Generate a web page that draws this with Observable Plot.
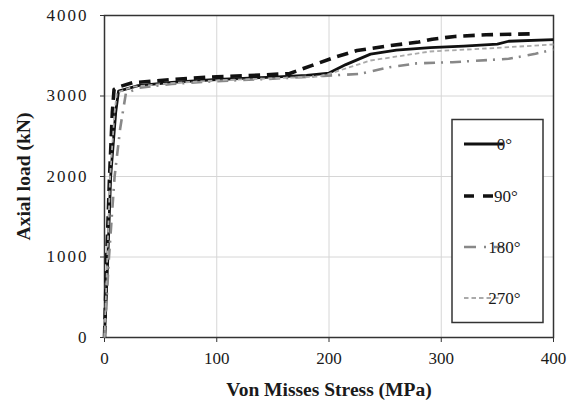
<!DOCTYPE html>
<html><head><meta charset="utf-8">
<script src="https://cdn.jsdelivr.net/npm/d3@7"></script>
<script src="https://cdn.jsdelivr.net/npm/@observablehq/plot@0.6"></script>
<style>
body{margin:0;background:#fff}
#chart{width:567px;height:403px}
</style>
</head><body><div id="chart"></div>
<script>
// Data
const xTicks = [0, 100, 200, 300, 400];
const yTicks = [0, 1000, 2000, 3000, 4000];
const seriesNames = ["0°", "90°", "180°", "270°"];

const stress0 = [0, 3, 5.5, 10, 12.5, 30, 60, 100, 150, 180, 200, 215, 237, 260, 290, 320, 350, 360, 400];
const load0   = [0, 1000, 2000, 2800, 3060, 3130, 3170, 3205, 3235, 3255, 3285, 3390, 3520, 3570, 3600, 3620, 3645, 3680, 3700];

const stress90 = [0, 2, 4.5, 7, 8.5, 12, 25, 60, 100, 140, 165, 185, 205, 225, 255, 280, 292, 312, 340, 380];
const load90   = [0, 1000, 2000, 2800, 3080, 3110, 3165, 3205, 3240, 3260, 3280, 3380, 3480, 3565, 3627, 3670, 3705, 3740, 3760, 3772];

const stress180 = [0, 4, 9, 14, 19, 30, 60, 100, 150, 195, 228, 254, 278, 310, 360, 384, 400];
const load180   = [0, 1000, 2000, 2600, 3030, 3100, 3150, 3185, 3215, 3250, 3275, 3358, 3405, 3420, 3462, 3524, 3580];

const stress270 = [0, 2.5, 5, 9, 11, 25, 60, 100, 150, 190, 200, 237, 290, 340, 400];
const load270   = [0, 1000, 2000, 2800, 3040, 3115, 3160, 3195, 3220, 3240, 3275, 3441, 3553, 3590, 3640];

const xs = [stress0, stress90, stress180, stress270];
const ys = [load0, load90, load180, load270];
const styles = [
  {stroke: "#111", strokeWidth: 2.8, dash: null},
  {stroke: "#111", strokeWidth: 3.6, dash: "11.5,6.8"},
  {stroke: "#888", strokeWidth: 2.6, dash: "11,6,2,7"},
  {stroke: "#aaa", strokeWidth: 1.8, dash: "4.5,3"}
];

const tables = seriesNames.map((name, k) => xs[k].map((x, i) => ({series: name, x, y: ys[k][i]})));

const lineMarks = tables.map((t, k) => Plot.line(t, {
  x: "x", y: "y", stroke: styles[k].stroke, strokeWidth: styles[k].strokeWidth,
  strokeDasharray: styles[k].dash, strokeLinejoin: "round", strokeLinecap: "butt"
}));

const fontFam = "Liberation Serif";
const chart = Plot.plot({
  width: 567, height: 403,
  marginLeft: 104, marginRight: 14, marginTop: 15, marginBottom: 66,
  style: {fontFamily: fontFam, fontSize: "17px", color: "#1a1a1a", background: "#fff"},
  x: {domain: [0, 400]},
  y: {domain: [0, 4000]},
  marks: [
    Plot.gridX(xTicks, {stroke: "#d6d6d6", strokeOpacity: 1, strokeWidth: 1}),
    Plot.gridY(yTicks, {stroke: "#d6d6d6", strokeOpacity: 1, strokeWidth: 1}),
    Plot.axisX({ticks: xTicks, tickFormat: d => String(d), tickSize: 5, tickPadding: 9, stroke: "#333", label: "Von Misses Stress (MPa)", labelAnchor: "center", labelArrow: "none", labelOffset: 58}),
    Plot.axisY({ticks: yTicks, tickFormat: d => String(d), tickSize: 4, tickPadding: 12, stroke: "#333", label: "Axial load (kN)", labelAnchor: "center", labelArrow: "none", labelOffset: 88}),
    Plot.frame({stroke: "#333", strokeWidth: 1.5}),
    ...lineMarks
  ]
});
document.getElementById("chart").appendChild(chart);

const svg = d3.select(chart);
svg.selectAll("text").attr("font-family", fontFam).style("font-family", fontFam);
svg.selectAll('[aria-label="x-axis label"] text, [aria-label="y-axis label"] text')
  .attr("font-weight", "bold").attr("font-size", 19.5).attr("fill", "#1a1a1a");
svg.selectAll('[aria-label="y-axis tick label"] text').style("letter-spacing", "2px");

// Legend
const lg = svg.append("g");
lg.append("rect").attr("x", 452).attr("y", 119.5).attr("width", 91).attr("height", 203)
  .attr("fill", "#fff").attr("stroke", "#333").attr("stroke-width", 1.5);
const rowY = [144, 196, 247, 298];
const legendDash = [null, "10,9", "12,8,2,8", "4.5,3"];
const legendEnd = [503, 495, 503, 503];
seriesNames.forEach((name, k) => {
  lg.append("line").attr("x1", 464).attr("x2", legendEnd[k]).attr("y1", rowY[k]).attr("y2", rowY[k])
    .attr("stroke", styles[k].stroke).attr("stroke-width", styles[k].strokeWidth)
    .attr("stroke-dasharray", legendDash[k]);
  lg.append("text").attr("x", k === 1 ? 506 : 504.5).attr("y", rowY[k] + 6)
    .attr("font-family", fontFam).attr("font-size", 17).attr("fill", "#1a1a1a").text(name);
});
</script>
</body></html>
